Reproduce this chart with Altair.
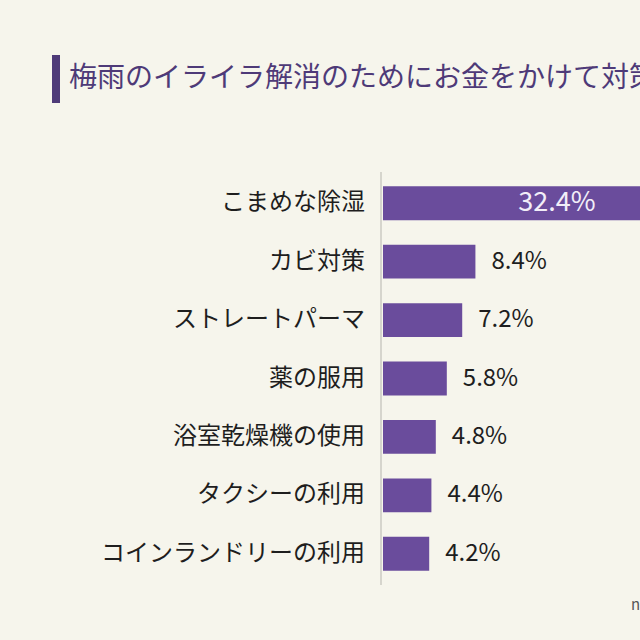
import altair as alt
import pandas as pd

# Survey results: things people spend money on to ease rainy-season irritation
categories = [
    "こまめな除湿",
    "カビ対策",
    "ストレートパーマ",
    "薬の服用",
    "浴室乾燥機の使用",
    "タクシーの利用",
    "コインランドリーの利用",
]
values = [32.4, 8.4, 7.2, 5.8, 4.8, 4.4, 4.2]

title_text = "梅雨のイライラ解消のためにお金をかけて対策したこと"
note_text = "n=1000"

FONT = "Noto Sans CJK JP"
BAR = "#6a4c9c"
BG = "#f6f5ec"

df = pd.DataFrame({"item": categories, "pct": values})
df["label"] = df["pct"].map(lambda v: f"{v:.1f}%")
df["inside"] = df["pct"] > 20

# Plot spans the whole canvas; scales map into explicit pixel ranges
x_scale = alt.Scale(domain=[0, 23.36], range=[383, 640], nice=False, zero=True)
y_scale = alt.Scale(domain=categories, range=[174, 583], paddingInner=0.42, paddingOuter=0.21)

base = alt.Chart(df).encode(
    y=alt.Y("item:N", scale=y_scale, axis=None, sort=categories),
)

bars = base.mark_bar(color=BAR, clip=True).encode(
    x=alt.X("pct:Q", scale=x_scale, axis=None),
)

cat_labels = base.mark_text(
    align="right", baseline="middle", font=FONT, fontSize=24, color="#1e1e1e"
).encode(x=alt.value(365), text="item:N")

outside_labels = base.mark_text(
    align="left", baseline="middle", dx=16, font=FONT, fontSize=24, color="#1e1e1e"
).encode(
    x=alt.X("pct:Q", scale=x_scale),
    text="label:N",
).transform_filter("!datum.inside")

inside_labels = base.mark_text(
    align="center", baseline="middle", font=FONT, fontSize=27, color="#f2eef8"
).encode(
    x=alt.value(557),
    text="label:N",
).transform_filter("datum.inside")

axis_line = alt.Chart(df).mark_rule(color="#d6d5cc", strokeWidth=1.5).encode(
    x=alt.value(381), y=alt.value(172), y2=alt.value(585)
)

title_bar = alt.Chart(df).mark_rect(color="#4e3a78").encode(
    x=alt.value(52), x2=alt.value(60), y=alt.value(55), y2=alt.value(103)
)

title = alt.Chart(pd.DataFrame({"t": [title_text]})).mark_text(
    align="left", baseline="middle", font=FONT, fontSize=28, color="#4e3a78"
).encode(x=alt.value(69), y=alt.value(79), text="t:N")

note = alt.Chart(pd.DataFrame({"t": [note_text]})).mark_text(
    align="left", baseline="middle", font=FONT, fontSize=15, color="#555555"
).encode(x=alt.value(631), y=alt.value(605), text="t:N")

chart = alt.layer(
    axis_line, bars, cat_labels, outside_labels, inside_labels, title_bar, title, note
).properties(
    width=640, height=640, background=BG,
    autosize=alt.AutoSizeParams(type="none"),
    padding=0,
).configure_view(stroke=None)

chart.save("out.html", embed_options={"renderer": "svg", "actions": False})
